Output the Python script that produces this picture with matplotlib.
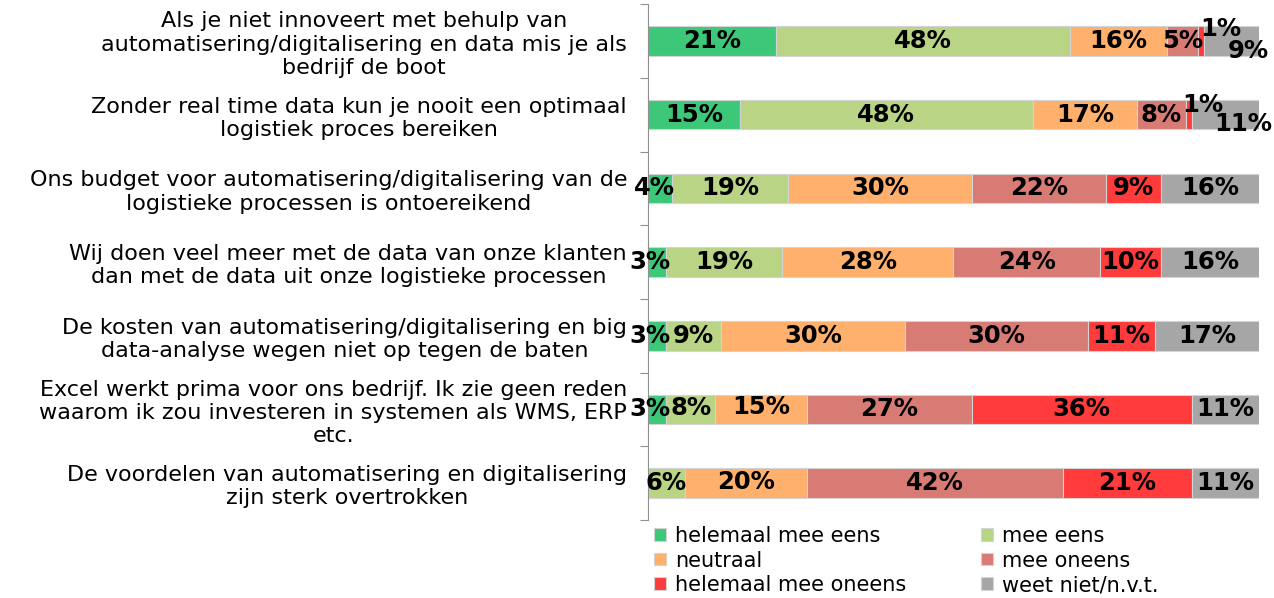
import matplotlib
matplotlib.use("Agg")
import matplotlib.pyplot as plt
import numpy as np

# stellingen (van boven naar beneden)
categories = [
    "Als je niet innoveert met behulp van\nautomatisering/digitalisering en data mis je als\nbedrijf de boot",
    "Zonder real time data kun je nooit een optimaal\nlogistiek proces bereiken",
    "Ons budget voor automatisering/digitalisering van de\nlogistieke processen is ontoereikend",
    "Wij doen veel meer met de data van onze klanten\ndan met de data uit onze logistieke processen",
    "De kosten van automatisering/digitalisering en big\ndata-analyse wegen niet op tegen de baten",
    "Excel werkt prima voor ons bedrijf. Ik zie geen reden\nwaarom ik zou investeren in systemen als WMS, ERP\netc.",
    "De voordelen van automatisering en digitalisering\nzijn sterk overtrokken",
]

series_names = ["helemaal mee eens", "mee eens", "neutraal",
                "mee oneens", "helemaal mee oneens", "weet niet/n.v.t."]

helemaal_eens = [21, 15, 4, 3, 3, 3, 0]
eens = [48, 48, 19, 19, 9, 8, 6]
neutraal = [16, 17, 30, 28, 30, 15, 20]
oneens = [5, 8, 22, 24, 30, 27, 42]
helemaal_oneens = [1, 1, 9, 10, 11, 36, 21]
weet_niet = [9, 11, 16, 16, 17, 11, 11]

colors = ["#3CC878", "#B8D484", "#FFB06C", "#D77B74", "#FF3B3B", "#A6A6A6"]

# verschuiving van labels bij kleine segmenten: (rij, reeks) -> (dx, dy) in punten
label_offsets = {
    (0, 4): (14, 9), (0, 5): (12, -7),
    (1, 4): (10, 7), (1, 5): (13, -7),
    (2, 0): (-4, 0), (3, 0): (-5, 0), (4, 0): (-5, 0), (5, 0): (-5, 0),
    (5, 1): (0, 1), (5, 2): (0, 2), (6, 2): (0, 1),
}

fig = plt.figure(figsize=(12.74, 5.98), dpi=100)
ax = fig.add_axes([0.5086, 0.1304, 0.4796, 0.8626])

data = [helemaal_eens, eens, neutraal, oneens, helemaal_oneens, weet_niet]
y = np.arange(len(categories))
left = np.zeros(len(categories))
handles = []
for s, (vals, col, name) in enumerate(zip(data, colors, series_names)):
    vals = np.array(vals, dtype=float)
    bars = ax.barh(y, vals, left=left, height=0.4, color=col,
                   edgecolor="#d4d4d4", linewidth=0.8, label=name)
    handles.append(bars)
    for r, (v, l) in enumerate(zip(vals, left)):
        if v <= 0:
            continue
        dx, dy = label_offsets.get((r, s), (0, 0))
        ax.annotate(f"{int(v)}%", xy=(l + v / 2, r), xytext=(dx, dy),
                    textcoords="offset points", ha="center", va="center",
                    fontsize=17.5, fontweight="bold", color="black")
    left += vals

ax.set_xlim(0, 100)
ax.set_ylim(len(categories) - 0.5, -0.5)
ax.set_xticks([])
ax.set_yticks(y)
ax.set_yticklabels(categories, ha="right", multialignment="center",
                   fontsize=16, linespacing=1.2)
ax.tick_params(axis="y", which="major", length=0, pad=15)
ax.set_yticks(np.arange(-0.5, len(categories) + 0.5, 1), minor=True)
ax.tick_params(axis="y", which="minor", length=6, color="#909090", width=0.8)
for sp in ["top", "right", "bottom"]:
    ax.spines[sp].set_visible(False)
ax.spines["left"].set_color("#909090")

order = [0, 2, 4, 1, 3, 5]
leg = fig.legend([handles[i] for i in order], [series_names[i] for i in order],
                 ncol=2, loc="upper left", bbox_to_anchor=(0.512, 0.124),
                 frameon=False, fontsize=15, handlelength=0.55, handleheight=0.55,
                 handletextpad=0.45, columnspacing=3.6, labelspacing=0.22,
                 borderaxespad=0, borderpad=0.1)

fig.savefig("out.png", dpi=100)
